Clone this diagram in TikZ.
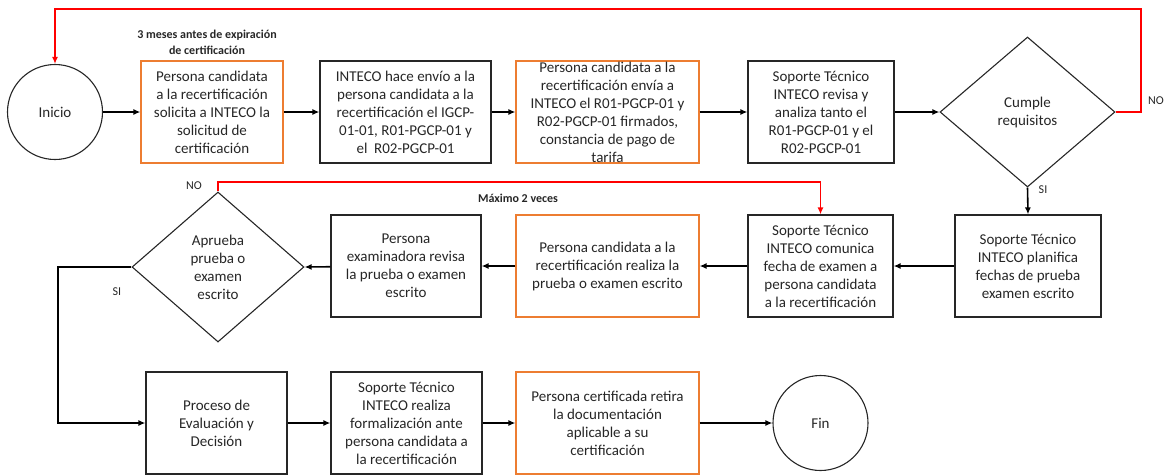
\documentclass[tikz,border=0pt]{standalone}
\usepackage{fontspec}
\setmainfont{Carlito}
\usetikzlibrary{arrows.meta,shapes.geometric}
\definecolor{boxorange}{RGB}{237,125,49}
\definecolor{flowred}{RGB}{255,0,0}
\definecolor{txt}{RGB}{38,38,38}
\begin{document}
\begin{tikzpicture}[x=1pt,y=-1pt,
  every node/.style={text=txt,font=\fontsize{15}{18}\selectfont},
  stepbox/.style={draw=black!85,line width=1.2pt,minimum width=#1,minimum height=102pt,inner sep=0pt,align=center},
  orangebox/.style={stepbox=#1,draw=boxorange},
  decision/.style={diamond,draw=black!85,line width=1.1pt,minimum width=#1,minimum height=150pt,inner sep=0pt,align=center},
  terminal/.style={circle,draw=black!85,line width=1.1pt,minimum size=95pt,inner sep=0pt},
  flow/.style={line width=1.6pt,-{Latex[length=7pt,width=6pt]}},
  redflow/.style={flow,draw=flowred},
  note/.style={font=\fontsize{12}{16}\selectfont\bfseries,align=center},
  lbl/.style={font=\fontsize{12}{14}\selectfont}
]
\useasboundingbox (0,0) rectangle (1167,475);

% row 1
\node[terminal] (inicio) at (55,112) {Inicio};
\node[orangebox=142pt] (b1) at (212,112) {Persona candidata\\a la recertificación\\solicita a INTECO la\\solicitud de\\certificación};
\node[stepbox=171pt] (b2) at (405.5,112) {INTECO hace envío a la\\persona candidata a la\\recertificación el IGCP-\\01-01, R01-PGCP-01 y\\el \ R02-PGCP-01};
\node[orangebox=183pt] (b3) at (607.5,112) {Persona candidata a la\\recertificación envía a\\INTECO el R01-PGCP-01 y\\R02-PGCP-01 firmados,\\constancia de pago de\\tarifa};
\node[stepbox=146pt] (b4) at (821,112) {Soporte Técnico\\INTECO revisa y\\analiza tanto el\\R01-PGCP-01 y el\\R02-PGCP-01};
\node[decision=175pt] (d1) at (1027.5,112) {Cumple\\requisitos};

% row 2
\node[stepbox=146pt] (b5) at (1028,266) {Soporte Técnico\\INTECO planifica\\fechas de prueba\\examen escrito};
\node[stepbox=145pt] (b6) at (820.5,266) {Soporte Técnico\\INTECO comunica\\fecha de examen a\\persona candidata\\a la recertificación};
\node[orangebox=183pt] (b7) at (607.5,266) {Persona candidata a la\\recertificación realiza la\\prueba o examen escrito};
\node[stepbox=150pt] (b8) at (406,266) {Persona\\examinadora revisa\\la prueba o examen\\escrito};
\node[decision=172pt] (d2) at (218,267) {Aprueba\\prueba o\\examen\\escrito};

% row 3
\node[stepbox=141pt] (b9) at (216.5,423) {Proceso de\\Evaluación y\\Decisión};
\node[stepbox=151pt] (b10) at (406.5,423) {Soporte Técnico\\INTECO realiza\\formalización ante\\persona candidata a\\la recertificación};
\node[orangebox=183pt] (b11) at (607.5,423) {Persona certificada retira\\la documentación\\aplicable a su\\certificación};
\node[terminal] (fin) at (820.5,423) {Fin};

% notes and labels
\node[note] (n1) at (207,42) {3 meses antes de expiración\\de certificación};
\node[note] (n2) at (518,198) {Máximo 2 veces};
\node[lbl] (no1) at (1156,101) {NO};
\node[lbl] (si1) at (1043,190) {SI};
\node[lbl] (no2) at (194,186) {NO};
\node[lbl] (si2) at (117,292) {SI};

% connectors
\draw[flow] (inicio) -- (b1);
\draw[flow] (b1) -- (b2);
\draw[flow] (b2) -- (b3);
\draw[flow] (b3) -- (b4);
\draw[flow] (b4) -- (d1.west);
\draw[flow] (d1.south) -- (b5.north);
\draw[flow] (b5) -- (b6);
\draw[flow] (b6) -- (b7);
\draw[flow] (b7) -- (b8);
\draw[flow] (b8) -- (d2.east);
\coordinate (c3) at (58,267);
\draw[flow] (d2.west) -- (c3) |- (b9.west);
\draw[flow] (b9) -- (b10);
\draw[flow] (b10) -- (b11);
\draw[flow] (b11) -- (fin);

\coordinate (c1) at (1141,9);
\draw[redflow] (d1.east) -| (c1) -| (inicio.north);
\coordinate (c2) at (218,182);
\draw[redflow] (d2.north) -- (c2) -| (b6.north);
\end{tikzpicture}
\end{document}
